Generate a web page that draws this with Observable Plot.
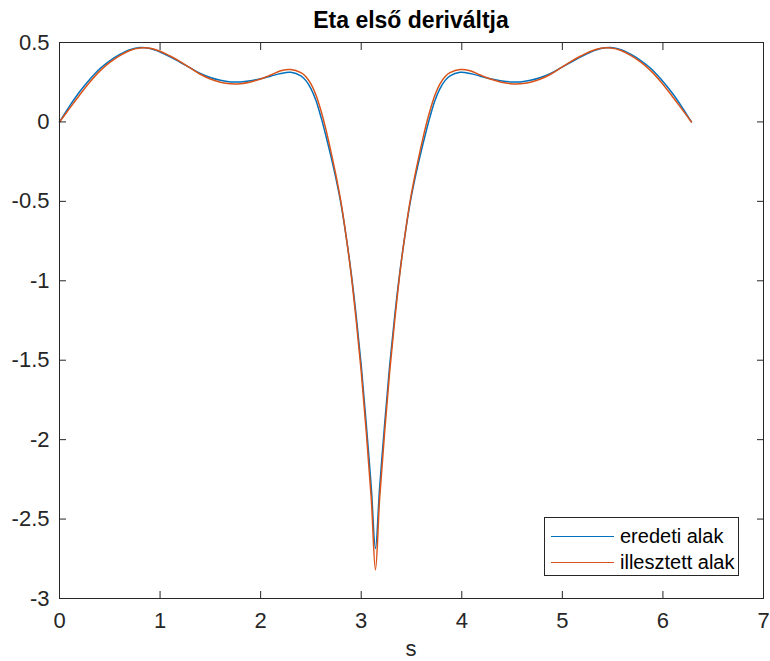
<!DOCTYPE html>
<html><head><meta charset="utf-8">
<script src="https://cdn.jsdelivr.net/npm/d3@7"></script>
<script src="https://cdn.jsdelivr.net/npm/@observablehq/plot@0.6"></script>
<style>
body{margin:0;background:#fff;font-family:"Liberation Sans",Arial,sans-serif;}
#wrap{position:relative;width:770px;height:661px;overflow:hidden;}
#title{position:absolute;left:59px;width:704px;top:7px;text-align:center;font-weight:bold;font-size:23px;color:#000;line-height:1.15;}
#xlabel{position:absolute;left:59px;width:704px;top:638px;height:22px;text-align:center;font-size:22px;color:#262626;line-height:1;}
#legend{position:absolute;left:544px;top:517px;width:195px;height:59px;border:1px solid #262626;background:#fff;box-sizing:border-box;font-size:20px;color:#000;}
.row{position:absolute;left:6px;height:24px;display:flex;align-items:center;white-space:nowrap;}
.sw{display:inline-block;width:63px;height:1px;margin-right:6px;}
</style></head>
<body><div id="wrap"><div id="chart"></div>
<div id="title">Eta első deriváltja</div>
<div id="xlabel">s</div>
<div id="legend"></div>
</div>
<script>
const seriesNames = ["eredeti alak", "illesztett alak"];
const seriesColors = ["#0072BD", "#D95319"];
const xTicks = [0, 1, 2, 3, 4, 5, 6, 7];
const yTicks = [-3, -2.5, -2, -1.5, -1, -0.5, 0, 0.5];

const s = [0, 0.1, 0.2, 0.3, 0.4, 0.5, 0.6, 0.7, 0.8, 0.9, 1.0, 1.1, 1.2, 1.3, 1.4, 1.5, 1.6, 1.7, 1.8, 1.9,
  2.0, 2.1, 2.2, 2.3, 2.4, 2.45, 2.5, 2.55, 2.6, 2.65, 2.7, 2.75, 2.8, 2.85, 2.9, 2.95, 3.0, 3.05, 3.1, 3.1416,
  3.1832, 3.2332, 3.2832, 3.3332, 3.3832, 3.4332, 3.4832, 3.5332, 3.5832, 3.6332, 3.6832, 3.7332, 3.7832, 3.8332, 3.8832,
  3.9832, 4.0832, 4.1832, 4.2832, 4.3832, 4.4832, 4.5832, 4.6832, 4.7832, 4.8832, 4.9832, 5.0832,
  5.1832, 5.2832, 5.3832, 5.4832, 5.5832, 5.6832, 5.7832, 5.8832, 5.9832, 6.0832, 6.1832, 6.2832];

const eredeti = [0, 0.10, 0.19, 0.267, 0.335, 0.385, 0.425, 0.455, 0.468, 0.462, 0.44, 0.41, 0.375, 0.34, 0.305, 0.28, 0.262, 0.252, 0.252, 0.26,
  0.272, 0.288, 0.305, 0.312, 0.29, 0.26, 0.21, 0.135, 0.03, -0.09, -0.22, -0.36, -0.52, -0.72, -0.95, -1.22, -1.53, -1.9, -2.3, -2.685,
  -2.3, -1.9, -1.53, -1.22, -0.95, -0.72, -0.52, -0.36, -0.22, -0.09, 0.03, 0.135, 0.21, 0.26, 0.29,
  0.312, 0.305, 0.288, 0.272, 0.26, 0.252, 0.252, 0.262, 0.28, 0.305, 0.34, 0.375,
  0.41, 0.44, 0.462, 0.468, 0.455, 0.425, 0.385, 0.335, 0.267, 0.19, 0.10, 0];

const illesztett = [0, 0.085, 0.17, 0.25, 0.32, 0.375, 0.418, 0.45, 0.465, 0.464, 0.445, 0.415, 0.38, 0.34, 0.30, 0.27, 0.25, 0.24, 0.241, 0.252,
  0.27, 0.295, 0.322, 0.33, 0.31, 0.285, 0.24, 0.17, 0.07, -0.05, -0.19, -0.34, -0.51, -0.72, -0.96, -1.25, -1.57, -1.95, -2.37, -2.82,
  -2.37, -1.95, -1.57, -1.25, -0.96, -0.72, -0.51, -0.34, -0.19, -0.05, 0.07, 0.17, 0.24, 0.285, 0.31,
  0.33, 0.322, 0.295, 0.27, 0.252, 0.241, 0.24, 0.25, 0.27, 0.30, 0.34, 0.38,
  0.415, 0.445, 0.464, 0.465, 0.45, 0.418, 0.375, 0.32, 0.25, 0.17, 0.085, 0];

const rowsA = s.map((x, i) => ({s: x, v: eredeti[i]}));
const rowsB = s.map((x, i) => ({s: x, v: illesztett[i]}));
const fmt = d => String(d);
const axisColor = "#262626";

const chart = Plot.plot({
  width: 770, height: 661,
  marginLeft: 59, marginRight: 7, marginTop: 42, marginBottom: 63,
  style: {fontFamily: "'Liberation Sans', Arial, sans-serif", fontSize: "22px", color: axisColor, background: "#fff"},
  x: {domain: [0, 7], label: null},
  y: {domain: [-3, 0.5], label: null},
  marks: [
    Plot.line(rowsA, {x: "s", y: "v", stroke: seriesColors[0], strokeWidth: 1.5, curve: "catmull-rom"}),
    Plot.line(rowsB, {x: "s", y: "v", stroke: seriesColors[1], strokeWidth: 1.5, curve: "catmull-rom"}),
    Plot.frame({stroke: axisColor}),
    Plot.axisX(xTicks, {anchor: "bottom", tickSize: -7, tickPadding: 21, tickFormat: fmt, label: null, stroke: axisColor, fill: axisColor}),
    Plot.axisX(xTicks, {anchor: "top", tickSize: -7, tickFormat: () => "", label: null, stroke: axisColor}),
    Plot.axisY(yTicks, {anchor: "left", tickSize: -7, tickPadding: 17, tickFormat: fmt, label: null, stroke: axisColor, fill: axisColor}),
    Plot.axisY(yTicks, {anchor: "right", tickSize: -7, tickFormat: () => "", label: null, stroke: axisColor})
  ]
});
document.getElementById("chart").appendChild(chart);

const legend = document.getElementById("legend");
seriesNames.forEach((name, i) => {
  const row = document.createElement("div");
  row.className = "row";
  row.style.top = (i === 0 ? 6 : 32) + "px";
  const sw = document.createElement("span");
  sw.className = "sw";
  sw.style.background = seriesColors[i];
  const t = document.createElement("span");
  t.textContent = name;
  row.appendChild(sw); row.appendChild(t);
  legend.appendChild(row);
});
</script>
</body></html>
